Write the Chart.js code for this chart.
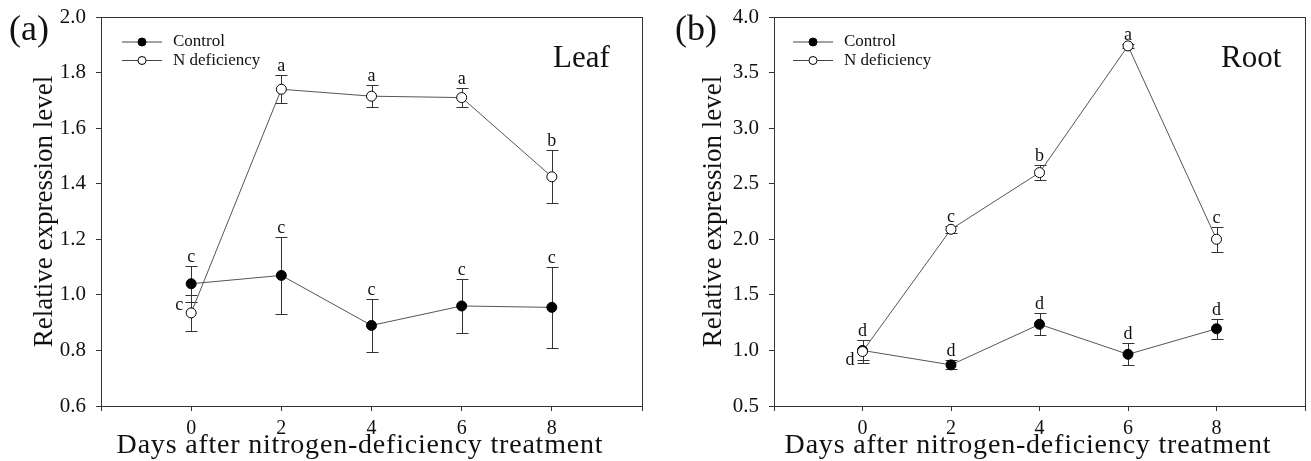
<!DOCTYPE html>
<html>
<head>
<meta charset="utf-8">
<script src="https://cdn.jsdelivr.net/npm/chart.js@4"></script>
<style>
body { margin: 0; background: #fff; width: 1311px; height: 461px; overflow: hidden; position: relative; }
.panel { position: absolute; top: 0; height: 461px; }
#pa { left: 0; width: 660px; }
#pb { left: 660px; width: 651px; }
</style>
</head>
<body>
<div class="panel" id="pa"><canvas id="leaf"></canvas></div>
<div class="panel" id="pb"><canvas id="root"></canvas></div>
<script>
const days = [0, 2, 4, 6, 8];
const xTicks = [-2, 0, 2, 4, 6, 8, 10];

// (a) leaf
const leafControl = [1.04, 1.07, 0.89, 0.96, 0.955];
const leafControlErr = [0.065, 0.14, 0.095, 0.097, 0.145];
const leafControlLetters = ['c', 'c', 'c', 'c', 'c'];
const leafN = [0.935, 1.74, 1.715, 1.71, 1.425];
const leafNErr = [0.065, 0.05, 0.04, 0.035, 0.095];
const leafNLetters = ['c', 'a', 'a', 'a', 'b'];
const leafYTicks = [0.6, 0.8, 1.0, 1.2, 1.4, 1.6, 1.8, 2.0];

// (b) root
const rootControl = [1.0, 0.87, 1.235, 0.965, 1.195];
const rootControlErr = [0.09, 0.04, 0.1, 0.1, 0.09];
const rootControlLetters = ['d', 'd', 'd', 'd', 'd'];
const rootN = [0.99, 2.09, 2.6, 3.74, 2.0];
const rootNErr = [0.1, 0.03, 0.07, 0.02, 0.11];
const rootNLetters = ['d', 'c', 'b', 'a', 'c'];
const rootYTicks = [0.5, 1.0, 1.5, 2.0, 2.5, 3.0, 3.5, 4.0];

const xTitle = 'Days after nitrogen-deficiency treatment';
const yTitle = 'Relative expression level';

const serif = '"Liberation Serif", "DejaVu Serif", serif';
const ink = '#111';
const axisColor = '#333';

function points(vals) {
    return days.map((d, i) => ({ x: d, y: vals[i] }));
}

function makeDeco(s) {
    return {
        id: 'deco',
        beforeDatasetsDraw(chart) {
            const ctx = chart.ctx;
            const xs = chart.scales.x, ys = chart.scales.y;
            ctx.save();
            ctx.strokeStyle = axisColor;
            ctx.lineWidth = 1;
            chart.data.datasets.forEach(ds => {
                ds.data.forEach((p, i) => {
                    const x = Math.round(xs.getPixelForValue(p.x)) + 0.5;
                    const y1 = Math.round(ys.getPixelForValue(p.y + ds.errors[i])) + 0.5;
                    const y2 = Math.round(ys.getPixelForValue(p.y - ds.errors[i])) + 0.5;
                    ctx.beginPath();
                    ctx.moveTo(x, y1); ctx.lineTo(x, y2);
                    ctx.moveTo(x - 6, y1); ctx.lineTo(x + 6, y1);
                    ctx.moveTo(x - 6, y2); ctx.lineTo(x + 6, y2);
                    ctx.stroke();
                });
            });
            ctx.restore();
        },
        afterDraw(chart) {
            const ctx = chart.ctx;
            const a = chart.chartArea;
            const xs = chart.scales.x, ys = chart.scales.y;
            ctx.save();
            // frame
            ctx.strokeStyle = axisColor;
            ctx.lineWidth = 1;
            ctx.strokeRect(Math.round(a.left) + 0.5, Math.round(a.top) + 0.5,
                Math.round(a.right - a.left), Math.round(a.bottom - a.top));

            // significance letters
            ctx.fillStyle = ink;
            ctx.font = '18px ' + serif;
            chart.data.datasets.forEach(ds => {
                ds.data.forEach((p, i) => {
                    const x = xs.getPixelForValue(p.x);
                    if (ds.isOpen && i === 0) {
                        // overlapping at day 0: letter goes to the left
                        ctx.textAlign = 'right';
                        ctx.textBaseline = 'middle';
                        ctx.fillText(ds.letters[i], x - 8, ys.getPixelForValue(p.y) + s.leftLetterDy);
                    } else {
                        ctx.textAlign = 'center';
                        ctx.textBaseline = 'alphabetic';
                        ctx.fillText(ds.letters[i], x, ys.getPixelForValue(p.y + ds.errors[i]) - 4);
                    }
                });
            });

            // legend
            ctx.font = '17px ' + serif;
            ctx.textAlign = 'left';
            ctx.textBaseline = 'middle';
            [['Control', true], ['N deficiency', false]].forEach((item, k) => {
                const y = s.legendY + k * 18.5;
                ctx.strokeStyle = '#444';
                ctx.beginPath();
                ctx.moveTo(s.legendX, y); ctx.lineTo(s.legendX + 40, y);
                ctx.stroke();
                ctx.beginPath();
                ctx.arc(s.legendX + 20, y, 4, 0, Math.PI * 2);
                ctx.fillStyle = item[1] ? '#000' : '#fff';
                ctx.fill();
                ctx.strokeStyle = '#000';
                ctx.stroke();
                ctx.fillStyle = ink;
                ctx.fillText(item[0], s.legendX + 51, y);
            });

            // x axis title
            ctx.font = '28px ' + serif;
            ctx.letterSpacing = '0.8px';
            ctx.textAlign = 'center';
            ctx.textBaseline = 'alphabetic';
            ctx.fillText(xTitle, s.xTitleX, 453);
            ctx.letterSpacing = '0px';

            // organ name
            ctx.font = '31px ' + serif;
            ctx.textAlign = 'left';
            ctx.fillText(s.organ, s.organX, 67);

            // panel label
            ctx.font = '36px ' + serif;
            ctx.fillText(s.label, s.labelX, 40);
            ctx.restore();
        }
    };
}

function makeChart(id, s) {
    new Chart(document.getElementById(id), {
        type: 'line',
        data: {
            datasets: [{
                label: 'N deficiency',
                data: points(s.n),
                errors: s.nErr,
                letters: s.nLetters,
                isOpen: true,
                order: 0,
                borderColor: '#555',
                borderWidth: 1,
                pointRadius: 5,
                pointBackgroundColor: '#fff',
                pointBorderColor: '#000',
                pointBorderWidth: 1,
                tension: 0
            }, {
                label: 'Control',
                data: points(s.control),
                errors: s.controlErr,
                letters: s.controlLetters,
                isOpen: false,
                order: 1,
                borderColor: '#555',
                borderWidth: 1,
                pointRadius: 5,
                pointBackgroundColor: '#000',
                pointBorderColor: '#000',
                pointBorderWidth: 1,
                tension: 0
            }]
        },
        options: {
            responsive: true,
            maintainAspectRatio: false,
            animation: false,
            devicePixelRatio: 1,
            layout: { padding: { left: s.padLeft, right: s.padRight, top: 17, bottom: 0 } },
            plugins: { legend: { display: false }, tooltip: { enabled: false } },
            scales: {
                x: {
                    type: 'linear',
                    min: -2,
                    max: 10,
                    afterFit(sc) { sc.height = 55; sc.paddingLeft = 0; sc.paddingRight = 0; },
                    afterBuildTicks(sc) { sc.ticks = xTicks.map(v => ({ value: v })); },
                    ticks: {
                        autoSkip: false,
                        maxRotation: 0,
                        padding: 6,
                        color: ink,
                        font: { family: serif, size: 20 },
                        callback: v => (v < 0 || v > 8) ? '' : String(v)
                    },
                    grid: { drawOnChartArea: false, tickLength: 5, color: axisColor },
                    border: { color: axisColor }
                },
                y: {
                    min: s.yTicks[0],
                    max: s.yTicks[s.yTicks.length - 1],
                    afterFit(sc) { sc.width = s.yWidth; sc.paddingTop = 0; sc.paddingBottom = 0; },
                    afterBuildTicks(sc) { sc.ticks = s.yTicks.map(v => ({ value: v })); },
                    ticks: {
                        padding: 10,
                        color: ink,
                        font: { family: serif, size: 21 },
                        callback: v => v.toFixed(1)
                    },
                    grid: { drawOnChartArea: false, tickLength: 5, color: axisColor },
                    border: { color: axisColor },
                    title: {
                        display: true,
                        text: yTitle,
                        color: ink,
                        font: { family: serif, size: 27 },
                        padding: { top: 4, bottom: 4 }
                    }
                }
            }
        },
        plugins: [makeDeco(s)]
    });
}

makeChart('leaf', {
    control: leafControl, controlErr: leafControlErr, controlLetters: leafControlLetters,
    n: leafN, nErr: leafNErr, nLetters: leafNLetters, yTicks: leafYTicks,
    padLeft: 25, yWidth: 76, padRight: 18,
    legendX: 122, legendY: 42, organ: 'Leaf', organX: 553, label: '(a)', labelX: 9,
    xTitleX: 360, leftLetterDy: -8
});

makeChart('root', {
    control: rootControl, controlErr: rootControlErr, controlLetters: rootControlLetters,
    n: rootN, nErr: rootNErr, nLetters: rootNLetters, yTicks: rootYTicks,
    padLeft: 34, yWidth: 80, padRight: 2,
    legendX: 133, legendY: 42, organ: 'Root', organX: 561, label: '(b)', labelX: 15,
    xTitleX: 368, leftLetterDy: 9
});
</script>
</body>
</html>
